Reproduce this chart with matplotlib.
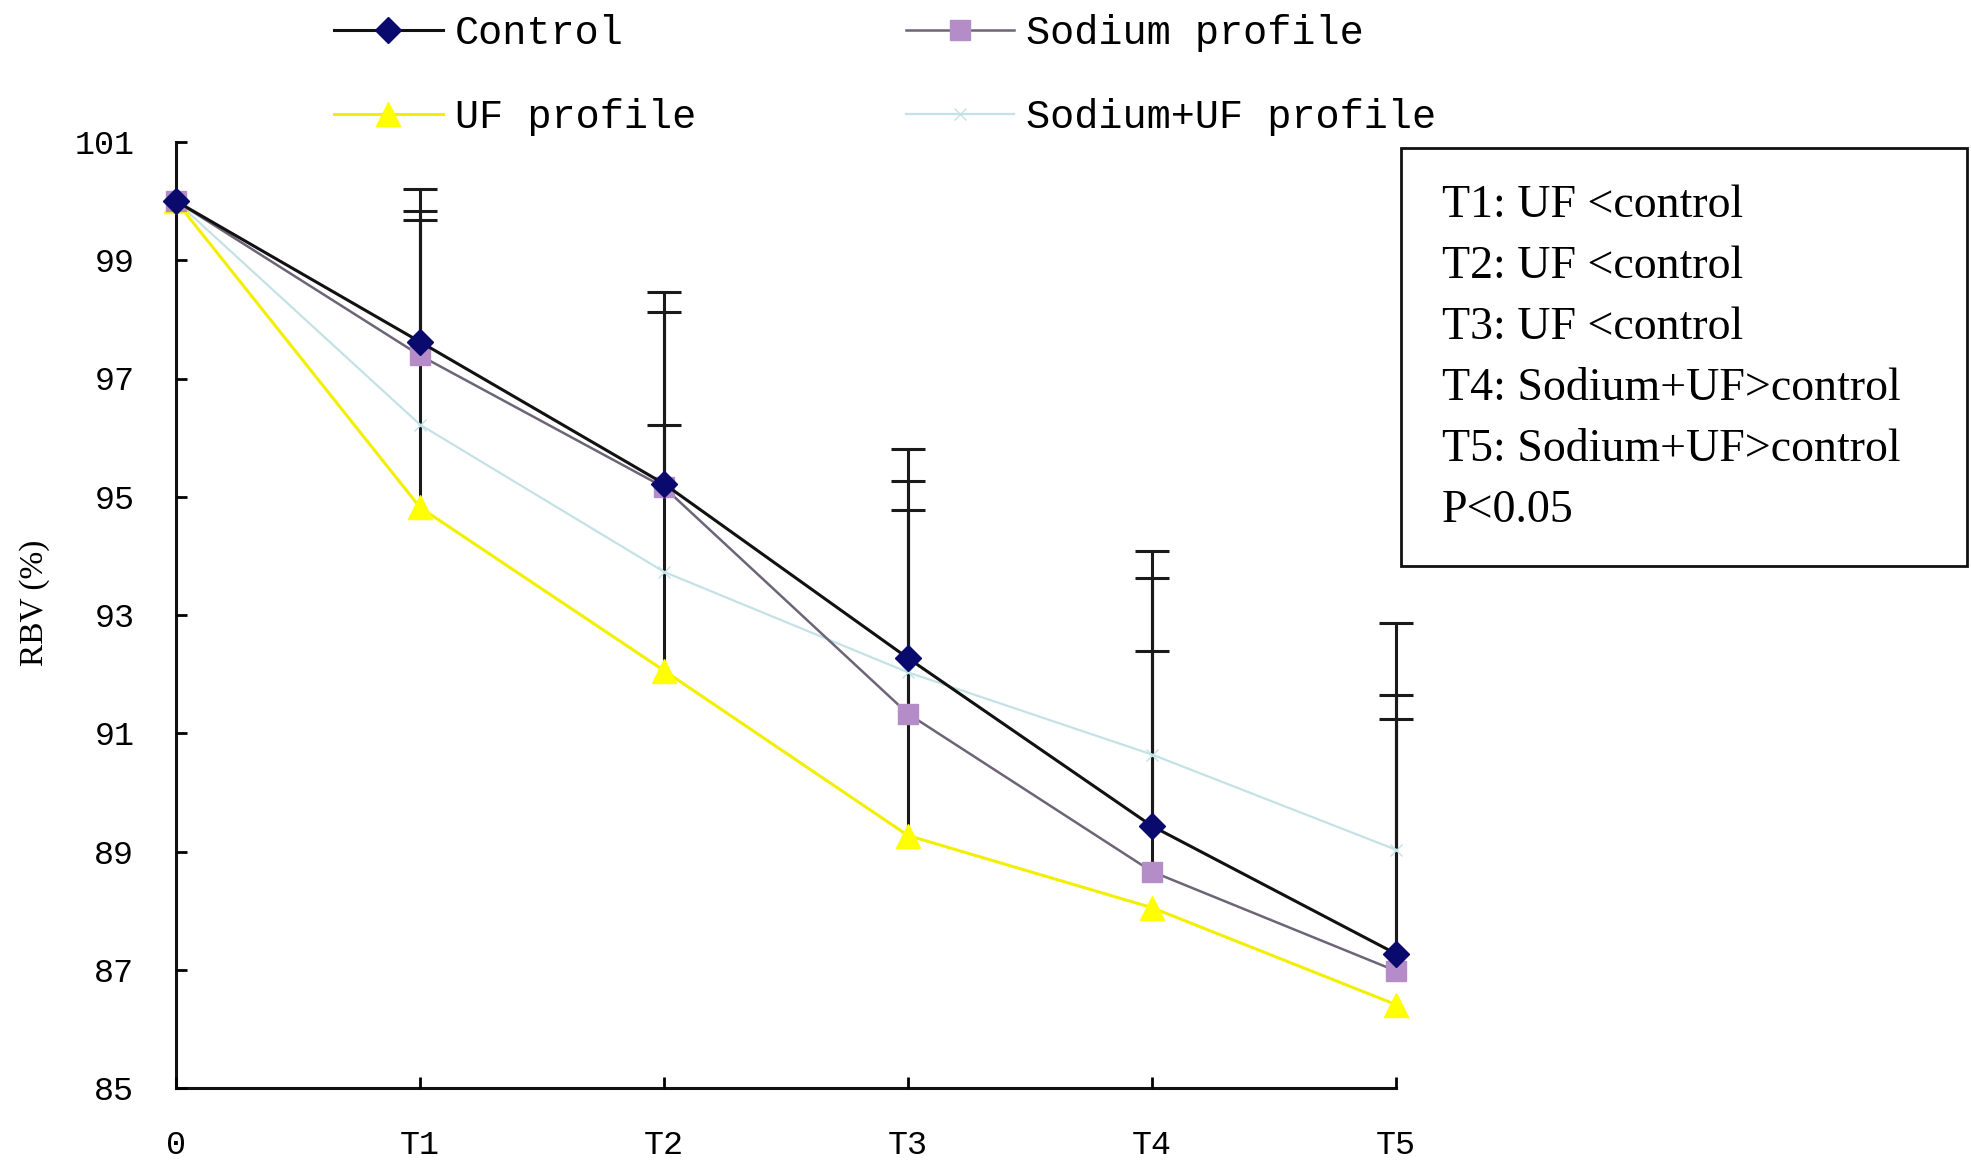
import numpy as np
import matplotlib
matplotlib.use("Agg")
import matplotlib.pyplot as plt
from matplotlib.patches import Rectangle

time_labels = ["0", "T1", "T2", "T3", "T4", "T5"]
control = [100.0, 97.62, 95.22, 92.27, 89.43, 87.27]
sodium = [100.0, 97.39, 95.16, 91.33, 88.66, 86.98]
uf = [100.0, 94.82, 92.06, 89.27, 88.05, 86.41]
sodium_uf = [100.0, 96.22, 93.73, 92.03, 90.64, 89.03]

# upper ends of the (one-sided) error bars, nan = no bar
control_up = [np.nan, 99.83, 98.13, 95.26, 93.62, 92.86]
sodium_up = [np.nan, 99.68, 96.22, 94.78, 94.08, 91.64]
uf_up = [np.nan, 100.21, 98.47, 95.80, np.nan, np.nan]
sodium_uf_up = [np.nan, np.nan, np.nan, np.nan, 92.39, 91.24]

notes = ["T1: UF <control", "T2: UF <control", "T3: UF <control",
         "T4: Sodium+UF>control", "T5: Sodium+UF>control", "P<0.05"]

mono = "Liberation Mono"
serif = "Liberation Serif"

fig = plt.figure(figsize=(19.71, 11.71), dpi=100)
ax = fig.add_axes([176 / 1971, 1 - 1088 / 1171, 1220 / 1971, 946 / 1171])

x = np.arange(len(time_labels))

series = [
    (control, control_up, dict(color="#111111", lw=2.2, marker="D", ms=13,
                               mfc="#0a0a6e", mec="#0a0a6e", label="Control", zorder=6)),
    (sodium, sodium_up, dict(color="#6e6478", lw=1.8, marker="s", ms=15,
                             mfc="#b48cc8", mec="#b48cc8", label="Sodium profile", zorder=5)),
    (uf, uf_up, dict(color="#f2f000", lw=2.2, marker="^", ms=17,
                     mfc="#ffff00", mec="#ffff00", label="UF profile", zorder=4)),
    (sodium_uf, sodium_uf_up, dict(color="#c4e2e6", lw=1.6, marker="x", ms=8,
                                   mfc="#c4e2e6", mec="#c4e2e6", label="Sodium+UF profile", zorder=3)),
]

handles = {}
for vals, ups, style in series:
    h, = ax.plot(x, vals, clip_on=False, **style)
    handles[style["label"]] = h
    vals = np.array(vals)
    ups = np.array(ups)
    ok = ~np.isnan(ups)
    eb = ax.errorbar(x[ok], vals[ok], yerr=[np.zeros(ok.sum()), ups[ok] - vals[ok]],
                     fmt="none", ecolor="#1a1a1a", elinewidth=2.2, capsize=12,
                     capthick=2.2, zorder=2)
    caps = eb[1]
    caps[0].set_visible(False)  # no cap at the marker end
    for c in caps:
        c.set_clip_on(False)
    for b in eb[2]:
        b.set_clip_on(False)

ax.set_xlim(0, 5)
ax.set_ylim(85, 101)
ax.set_xticks(x)
ax.set_xticklabels(time_labels)
ax.set_yticks(np.arange(85, 102, 2))
for s in ["top", "right"]:
    ax.spines[s].set_visible(False)
for s in ["left", "bottom"]:
    ax.spines[s].set_linewidth(2.2)
    ax.spines[s].set_color("#111111")
    ax.spines[s].set_zorder(1)
ax.tick_params(direction="in", length=8, width=2, labelsize=24, pad=30)
for lab in ax.get_xticklabels() + ax.get_yticklabels():
    lab.set_family(mono)

fig.text(35 / 1971, 1 - 603 / 1171, "RBV (%)", rotation=90, ha="center",
         va="center", fontsize=24, family=serif)

order = ["Control", "UF profile", "Sodium profile", "Sodium+UF profile"]
fig.legend([handles[k] for k in order], order, ncol=2, frameon=False,
           loc="upper left", bbox_to_anchor=(330 / 1971, 1 - 10 / 1171),
           prop={"family": mono, "size": 29}, handlelength=2.7,
           handletextpad=0.3, columnspacing=5.2, labelspacing=1.15,
           borderaxespad=0.0, borderpad=0.1)

fig.add_artist(Rectangle((1401 / 1971, 1 - 566 / 1171), 566 / 1971, 418 / 1171,
                         transform=fig.transFigure, fill=False, lw=2, ec="#111111"))
for i, line in enumerate(notes):
    fig.text(1442 / 1971, 1 - (206 + 61 * i) / 1171, line, ha="left",
             va="center", fontsize=33, family=serif)

fig.savefig("out.png", dpi=100)
